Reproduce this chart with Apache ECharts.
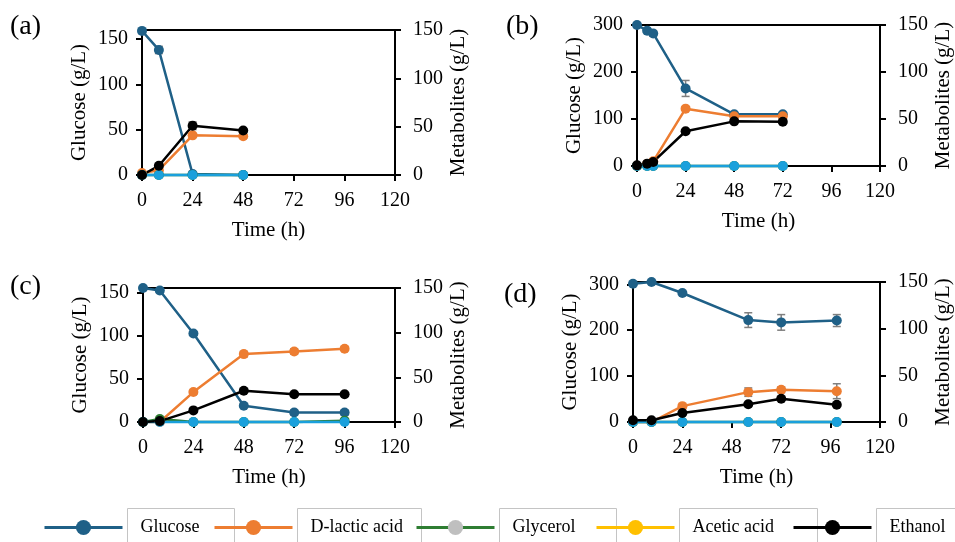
<!DOCTYPE html>
<html>
<head>
<meta charset="utf-8">
<script src="https://cdn.jsdelivr.net/npm/echarts@6/dist/echarts.min.js"></script>
<style>
  html, body { margin: 0; background: #fff; }
  #main { width: 955px; height: 542px; }
</style>
</head>
<body>
<div id="main"></div>
<script>
// panel (a)
const timeA = [0, 8, 24, 48];
const glucoseA = [159, 138, 1, 0];
const glucoseErrA = [0, 4, 0, 0];
const lacticA = [2, 5, 41, 40];
const lacticErrA = [0, 1, 2, 2];
const glycerolA = [0, 0, 0, 0];
const aceticA = [0, 0, 0, 0];
const ethanolA = [0, 9.5, 51, 46];
const ethanolErrA = [0, 1, 4, 1];

// panel (b)
const timeB = [0, 5, 8, 24, 48, 72];
const glucoseB = [300, 288, 282, 165, 110, 110];
const glucoseErrB = [0, 3, 6, 17, 3, 4];
const lacticB = [0, 2, 5, 61, 53, 53];
const lacticErrB = [0, 0, 1, 1, 2, 3];
const glycerolB = [0, 0, 0, 0, 0, 0];
const aceticB = [0, 0, 0, 0, 0, 0];
const ethanolB = [0.7, 2.5, 4.3, 37, 47.5, 47];
const ethanolErrB = [0, 0, 0, 1, 1, 2];

// panel (c)
const timeC = [0, 8, 24, 48, 72, 96];
const glucoseC = [156, 153, 103, 19, 11, 11];
const glucoseErrC = [0, 1, 2, 2, 3, 3];
const lacticC = [0, 0, 33.5, 76, 79, 82];
const lacticErrC = [0, 0, 2, 3, 3, 2];
const glycerolC = [0, 3.4, 0, 0, 0, 1.5];
const aceticC = [0, 0, 0, 0, 0, 0];
const ethanolC = [0, 1, 13, 35, 31, 31];
const ethanolErrC = [0, 0, 1, 2, 1, 2];

// panel (d)
const timeD = [0, 9, 24, 56, 72, 99];
const glucoseD = [301, 305, 281, 222, 217, 221];
const glucoseErrD = [0, 0, 2, 16, 17, 13];
const lacticD = [0, 0, 17, 32, 34.5, 33];
const lacticErrD = [0, 0, 1, 4.5, 3, 8];
const glycerolD = [0, 0, 0, 0, 0, 0];
const aceticD = [0, 0, 0, 0, 0, 0];
const ethanolD = [1.8, 1.8, 9.6, 19, 25, 18.5];
const ethanolErrD = [0, 0, 1, 1, 1, 1];

const metaboliteTicks = [0, 50, 100, 150];
const glucoseTicksLow = [0, 50, 100, 150];
const glucoseTicksHigh = [0, 100, 200, 300];

const FONT = '"Liberation Serif", "DejaVu Serif", serif';
const colors = {
  glucose: '#1f6087',
  lactic: '#ed7d31',
  glycerol: '#2e7d32',
  glyMarker: '#bfbfbf',
  acetic: '#ffc000',
  aceticPlot: '#1aa0dc',
  ethanol: '#000000',
  err: '#7f7f7f'
};

const panels = [
  { label: '(a)', grid: { left: 142, top: 30, width: 253, height: 145 }, gMax: 160, gTicks: glucoseTicksLow,
    t: timeA, glu: glucoseA, gluErr: glucoseErrA, lac: lacticA, lacErr: lacticErrA, gly: glycerolA, ace: aceticA, eth: ethanolA, ethErr: ethanolErrA,
    lx: 10, ly: 13 },
  { label: '(b)', grid: { left: 637, top: 25, width: 252, height: 141 }, gMax: 300, gTicks: glucoseTicksHigh,
    t: timeB, glu: glucoseB, gluErr: glucoseErrB, lac: lacticB, lacErr: lacticErrB, gly: glycerolB, ace: aceticB, eth: ethanolB, ethErr: ethanolErrB,
    lx: 506, ly: 13 },
  { label: '(c)', grid: { left: 143, top: 288, width: 252, height: 134 }, gMax: 156, gTicks: glucoseTicksLow,
    t: timeC, glu: glucoseC, gluErr: glucoseErrC, lac: lacticC, lacErr: lacticErrC, gly: glycerolC, ace: aceticC, eth: ethanolC, ethErr: ethanolErrC,
    lx: 10, ly: 273 },
  { label: '(d)', grid: { left: 633, top: 282, width: 256, height: 140 }, gMax: 305, gTicks: glucoseTicksHigh,
    t: timeD, glu: glucoseD, gluErr: glucoseErrD, lac: lacticD, lacErr: lacticErrD, gly: glycerolD, ace: aceticD, eth: ethanolD, ethErr: ethanolErrD,
    lx: 504, ly: 281 }
];

const axisLine = { show: true, lineStyle: { color: '#000', width: 2 } };
const axisTick = { show: true, inside: false, length: 6, lineStyle: { color: '#000', width: 2 } };
const labelStyle = { fontFamily: FONT, fontSize: 20, color: '#000' };
const nameStyle = { fontFamily: FONT, fontSize: 21, color: '#000' };

const grids = [], xAxes = [], yAxes = [], series = [], graphics = [];

function lineSeries(name, xi, yi, t, vals, color, markerColor) {
  return {
    name: name, type: 'line', xAxisIndex: xi, yAxisIndex: yi,
    data: t.map((x, i) => [x, vals[i]]),
    symbol: 'circle', symbolSize: 10, clip: false, z: 3,
    lineStyle: { color: color, width: 2.5 },
    itemStyle: { color: markerColor || color },
    emphasis: { disabled: true }
  };
}

function errorBars(xi, yi, t, vals, errs) {
  return {
    type: 'custom', xAxisIndex: xi, yAxisIndex: yi, z: 2, silent: true, clip: false,
    data: t.map((x, i) => [x, vals[i], errs[i]]).filter(d => d[2] > 0),
    encode: { x: 0, y: 1 },
    renderItem: function (params, api) {
      const x = api.value(0), y = api.value(1), e = api.value(2);
      const hi = api.coord([x, y + e]);
      const lo = api.coord([x, Math.max(0, y - e)]);
      const w = 4;
      const st = { stroke: colors.err, lineWidth: 1.5 };
      return { type: 'group', children: [
        { type: 'line', shape: { x1: hi[0], y1: hi[1], x2: lo[0], y2: lo[1] }, style: st },
        { type: 'line', shape: { x1: hi[0] - w, y1: hi[1], x2: hi[0] + w, y2: hi[1] }, style: st },
        { type: 'line', shape: { x1: lo[0] - w, y1: lo[1], x2: lo[0] + w, y2: lo[1] }, style: st }
      ]};
    }
  };
}

panels.forEach((p, i) => {
  grids.push(Object.assign({ show: true, borderColor: '#000', borderWidth: 2, backgroundColor: 'transparent' }, p.grid));
  xAxes.push({
    gridIndex: i, type: 'value', min: 0, max: 120, interval: 24,
    name: 'Time (h)', nameLocation: 'middle', nameGap: 45, nameTextStyle: nameStyle,
    axisLine: axisLine, axisTick: axisTick, splitLine: { show: false },
    axisLabel: Object.assign({ margin: 16 }, labelStyle)
  });
  yAxes.push({
    gridIndex: i, type: 'value', position: 'left', min: 0, max: p.gMax,
    name: 'Glucose (g/L)', nameLocation: 'middle', nameRotate: 90, nameGap: 52, nameTextStyle: nameStyle,
    axisLine: axisLine, splitLine: { show: false },
    axisTick: Object.assign({ customValues: p.gTicks }, axisTick),
    axisLabel: Object.assign({ margin: 14, customValues: p.gTicks }, labelStyle)
  });
  yAxes.push({
    gridIndex: i, type: 'value', position: 'right', min: 0, max: 150, interval: 50,
    name: 'Metabolites (g/L)', nameLocation: 'middle', nameRotate: 90, nameGap: 53, nameTextStyle: nameStyle,
    axisLine: axisLine, splitLine: { show: false },
    axisTick: Object.assign({ customValues: metaboliteTicks }, axisTick),
    axisLabel: Object.assign({ margin: 18, customValues: metaboliteTicks }, labelStyle)
  });
  const yl = 2 * i, yr = 2 * i + 1;
  series.push(errorBars(i, yl, p.t, p.glu, p.gluErr));
  series.push(errorBars(i, yr, p.t, p.lac, p.lacErr));
  series.push(errorBars(i, yr, p.t, p.eth, p.ethErr));
  series.push(lineSeries('Glucose', i, yl, p.t, p.glu, colors.glucose));
  series.push(lineSeries('D-lactic acid', i, yr, p.t, p.lac, colors.lactic));
  series.push(lineSeries('Glycerol', i, yr, p.t, p.gly, colors.glycerol));
  series.push(lineSeries('Acetic acid', i, yr, p.t, p.ace, colors.aceticPlot));
  series.push(lineSeries('Ethanol', i, yr, p.t, p.eth, colors.ethanol));
  graphics.push({
    type: 'text', left: p.lx, top: p.ly,
    style: { text: p.label, font: '28px ' + FONT, fill: '#000' }
  });
});

// legend: one component per entry, each text in a box
const legendItems = [
  { name: 'Glucose', left: 43, w: 94, itemStyle: { color: colors.glucose }, lineStyle: { color: colors.glucose } },
  { name: 'D-lactic acid', left: 213, w: 111, itemStyle: { color: colors.lactic }, lineStyle: { color: colors.lactic } },
  { name: 'Glycerol', left: 415, w: 104, itemStyle: { color: colors.glyMarker }, lineStyle: { color: colors.glycerol } },
  { name: 'Acetic acid', left: 595, w: 125, itemStyle: { color: colors.acetic }, lineStyle: { color: colors.acetic } },
  { name: 'Ethanol', left: 792, w: 90, itemStyle: { color: colors.ethanol }, lineStyle: { color: colors.ethanol } }
];
const legends = legendItems.map(it => ({
  left: it.left, top: 508, padding: 0, itemWidth: 78, itemHeight: 19,
  selectedMode: false,
  data: [{ name: it.name, itemStyle: it.itemStyle, lineStyle: Object.assign({ width: 3 }, it.lineStyle) }],
  textStyle: {
    fontFamily: FONT, fontSize: 18, color: '#000',
    width: it.w, lineHeight: 38, padding: [0, 0, 0, 13],
    borderColor: '#c4c4c4', borderWidth: 1
  }
}));

const chart = echarts.init(document.getElementById('main'));
chart.setOption({
  animation: false,
  backgroundColor: '#fff',
  grid: grids,
  xAxis: xAxes,
  yAxis: yAxes,
  legend: legends,
  series: series,
  graphic: graphics
});
</script>
</body>
</html>
